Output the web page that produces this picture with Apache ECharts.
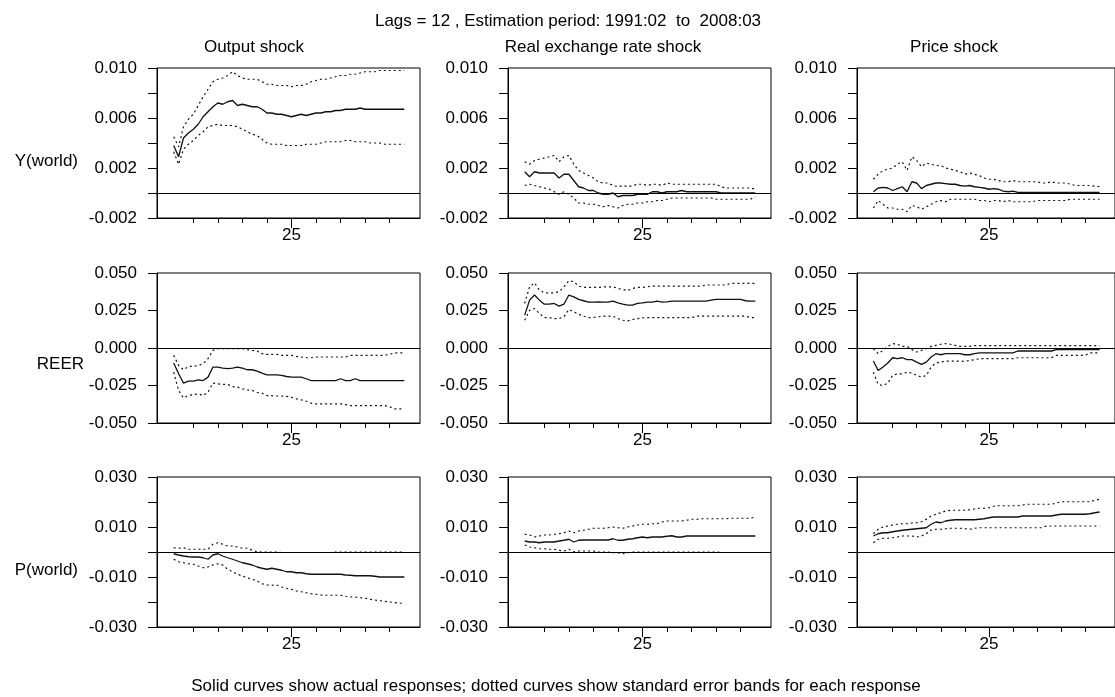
<!DOCTYPE html>
<html>
<head>
<meta charset="utf-8">
<script src="https://cdn.jsdelivr.net/npm/echarts@6/dist/echarts.min.js"></script>
<style>
  html, body { margin: 0; padding: 0; background: #fff; }
  #main { width: 1115px; height: 697px; }
</style>
</head>
<body>
<div id="main"></div>
<script>
// horizon (months after the shock)
var periods = [1,2,3,4,5,6,7,8,9,10,11,12,13,14,15,16,17,18,19,20,21,22,23,24,
               25,26,27,28,29,30,31,32,33,34,35,36,37,38,39,40,41,42,43,44,45,46,47,48];

var colTitles = ['Output shock', 'Real exchange rate shock', 'Price shock'];
var rowNames = ['Y(world)', 'REER', 'P(world)'];
var xTicks = [5, 10, 15, 20, 25, 30, 35, 40, 45];
var xLabels = [25];
var yLabels1 = [-0.002, 0.002, 0.006, 0.010];
var yLabels2 = [-0.050, -0.025, 0.000, 0.025, 0.050];
var yLabels3 = [-0.030, -0.010, 0.010, 0.030];

// ---- Y(world) ----
var ywOutMid = [0.0038,0.0029,0.0044,0.0048,0.0051,0.0055,0.0061,0.0065,0.0069,0.0072,0.0071,0.0073,0.0074,0.0070,0.0071,0.0070,0.0069,0.0069,0.0067,0.0064,0.0064,0.0063,0.0063,0.0062,
                0.0061,0.0062,0.0063,0.0062,0.0063,0.0064,0.0064,0.0065,0.0065,0.0066,0.0066,0.0067,0.0067,0.0067,0.0068,0.0067,0.0067,0.0067,0.0067,0.0067,0.0067,0.0067,0.0067,0.0067];
var ywOutUp  = [0.0045,0.0037,0.0053,0.0059,0.0063,0.0070,0.0077,0.0083,0.0089,0.0091,0.0092,0.0094,0.0097,0.0094,0.0092,0.0091,0.0091,0.0091,0.0089,0.0087,0.0087,0.0086,0.0086,0.0086,
                0.0085,0.0086,0.0086,0.0087,0.0089,0.0090,0.0091,0.0091,0.0092,0.0093,0.0094,0.0094,0.0095,0.0095,0.0096,0.0097,0.0097,0.0097,0.0098,0.0098,0.0098,0.0098,0.0098,0.0098];
var ywOutLo  = [0.0033,0.0023,0.0035,0.0039,0.0042,0.0046,0.0049,0.0053,0.0054,0.0055,0.0054,0.0054,0.0054,0.0053,0.0051,0.0049,0.0047,0.0046,0.0043,0.0040,0.0039,0.0039,0.0039,0.0038,
                0.0038,0.0038,0.0038,0.0039,0.0039,0.0039,0.0040,0.0041,0.0041,0.0041,0.0041,0.0042,0.0042,0.0041,0.0041,0.0041,0.0040,0.0040,0.0040,0.0039,0.0039,0.0039,0.0039,0.0039];

var ywRerMid = [0.0017,0.0013,0.0017,0.0016,0.0016,0.0016,0.0016,0.0012,0.0015,0.0015,0.0010,0.0005,0.0004,0.0002,0.0002,0.0000,-0.0001,-0.0001,0.0000,-0.0003,-0.0002,-0.0002,-0.0002,-0.0001,
                -0.0001,-0.0001,0.0001,0.0001,0.0000,0.0001,0.0001,0.0001,0.0002,0.0001,0.0001,0.0001,0.0001,0.0001,0.0001,0.0001,0.0000,0.0000,0.0000,0.0000,0.0000,0.0000,0.0000,0.0000];
var ywRerUp  = [0.0025,0.0023,0.0026,0.0027,0.0028,0.0029,0.0030,0.0025,0.0029,0.0030,0.0023,0.0018,0.0016,0.0014,0.0012,0.0009,0.0008,0.0008,0.0006,0.0005,0.0006,0.0005,0.0006,0.0007,
                0.0007,0.0006,0.0007,0.0007,0.0006,0.0008,0.0007,0.0007,0.0007,0.0007,0.0007,0.0007,0.0007,0.0007,0.0007,0.0007,0.0005,0.0004,0.0004,0.0004,0.0004,0.0004,0.0004,0.0003];
var ywRerLo  = [0.0006,0.0007,0.0006,0.0005,0.0004,0.0003,0.0001,-0.0001,0.0001,-0.0001,-0.0004,-0.0008,-0.0008,-0.0009,-0.0009,-0.0010,-0.0011,-0.0010,-0.0011,-0.0012,-0.0010,-0.0009,-0.0009,-0.0008,
                -0.0008,-0.0007,-0.0007,-0.0006,-0.0006,-0.0005,-0.0004,-0.0004,-0.0004,-0.0004,-0.0004,-0.0004,-0.0004,-0.0004,-0.0004,-0.0005,-0.0005,-0.0005,-0.0005,-0.0005,-0.0005,-0.0005,-0.0005,-0.0003];

var ywPrMid  = [0.0001,0.0004,0.00045,0.0004,0.0002,0.00035,0.0005,0.0001,0.0009,0.0008,0.00035,0.0006,0.0007,0.0008,0.0008,0.00075,0.0007,0.0007,0.0006,0.00055,0.0006,0.0005,0.00045,0.0004,
                0.0003,0.00035,0.0003,0.00015,0.0001,0.00015,0.00005,0.00005,0.00005,0.00005,0.00005,0.00005,0.00005,0.00005,0.00005,0.00005,0.00005,0.00005,0.00005,0.00005,0.00005,0.00005,0.00005,0.00005];
var ywPrUp   = [0.0011,0.0015,0.0018,0.0019,0.0020,0.0023,0.0025,0.0018,0.0029,0.0026,0.0021,0.0024,0.0023,0.0022,0.0022,0.0020,0.0019,0.0018,0.0017,0.0015,0.0016,0.0015,0.0014,0.0012,
                0.0011,0.0011,0.0010,0.0009,0.0009,0.0010,0.0009,0.0009,0.0009,0.0009,0.0009,0.0008,0.0008,0.0009,0.0008,0.0008,0.0008,0.0007,0.0006,0.0006,0.0006,0.0006,0.00055,0.0005];
var ywPrLo   = [-0.0012,-0.0006,-0.0009,-0.0012,-0.0012,-0.0013,-0.0013,-0.0015,-0.0010,-0.0011,-0.0013,-0.0011,-0.0009,-0.0007,-0.0006,-0.0007,-0.0005,-0.0005,-0.0005,-0.0005,-0.0005,-0.0005,-0.0006,-0.0006,
                -0.0007,-0.0006,-0.0006,-0.0007,-0.0006,-0.0007,-0.0007,-0.0007,-0.0007,-0.0007,-0.0006,-0.0006,-0.0006,-0.0006,-0.0006,-0.0006,-0.0006,-0.0005,-0.0005,-0.0005,-0.0005,-0.0005,-0.0005,-0.0005];

// ---- REER ----
var reOutMid = [-0.0100,-0.0172,-0.0234,-0.0221,-0.0221,-0.0212,-0.0217,-0.0194,-0.0127,-0.0127,-0.0134,-0.0138,-0.0134,-0.0127,-0.0134,-0.0145,-0.0145,-0.0154,-0.0167,-0.0179,-0.0179,-0.0179,-0.0183,-0.0190,
                -0.0194,-0.0194,-0.0194,-0.0205,-0.0217,-0.0217,-0.0217,-0.0217,-0.0217,-0.0217,-0.0205,-0.0217,-0.0217,-0.0205,-0.0217,-0.0217,-0.0217,-0.0217,-0.0217,-0.0217,-0.0217,-0.0217,-0.0217,-0.0217];
var reOutUp  = [-0.0049,-0.0116,-0.0145,-0.0123,-0.0123,-0.0116,-0.0105,-0.0071,-0.0016,-0.0004,-0.0004,-0.0004,-0.0004,-0.0004,-0.0004,-0.0011,-0.0016,-0.0020,-0.0038,-0.0042,-0.0042,-0.0042,-0.0049,-0.0049,
                -0.0049,-0.0056,-0.0060,-0.0065,-0.0065,-0.0060,-0.0060,-0.0060,-0.0060,-0.0060,-0.0060,-0.0060,-0.0049,-0.0049,-0.0049,-0.0049,-0.0049,-0.0049,-0.0049,-0.0049,-0.0042,-0.0033,-0.0033,-0.0033];
var reOutLo  = [-0.0161,-0.0283,-0.0333,-0.0317,-0.0310,-0.0306,-0.0317,-0.0295,-0.0234,-0.0239,-0.0243,-0.0243,-0.0257,-0.0261,-0.0272,-0.0279,-0.0283,-0.0295,-0.0301,-0.0317,-0.0318,-0.0320,-0.0320,-0.0322,
                -0.0328,-0.0339,-0.0346,-0.0355,-0.0368,-0.0373,-0.0373,-0.0373,-0.0373,-0.0373,-0.0373,-0.0377,-0.0384,-0.0384,-0.0384,-0.0384,-0.0384,-0.0384,-0.0384,-0.0384,-0.0391,-0.0406,-0.0406,-0.0406];

var reRerMid = [0.0219,0.0319,0.0353,0.0319,0.0292,0.0292,0.0297,0.0279,0.0292,0.0353,0.0341,0.0324,0.0315,0.0306,0.0306,0.0308,0.0306,0.0306,0.0312,0.0301,0.0292,0.0286,0.0286,0.0297,
                0.0301,0.0306,0.0306,0.0312,0.0306,0.0308,0.0312,0.0312,0.0312,0.0312,0.0312,0.0312,0.0312,0.0312,0.0319,0.0324,0.0324,0.0324,0.0324,0.0324,0.0324,0.0315,0.0312,0.0312];
var reRerUp  = [0.0297,0.0408,0.0435,0.0386,0.0368,0.0368,0.0368,0.0375,0.0408,0.0449,0.0442,0.0413,0.0404,0.0404,0.0404,0.0404,0.0408,0.0408,0.0408,0.0397,0.0391,0.0382,0.0397,0.0404,
                0.0404,0.0408,0.0413,0.0413,0.0413,0.0413,0.0413,0.0413,0.0413,0.0413,0.0413,0.0413,0.0413,0.0420,0.0420,0.0420,0.0420,0.0420,0.0431,0.0431,0.0431,0.0431,0.0431,0.0431];
var reRerLo  = [0.0185,0.0252,0.0263,0.0230,0.0203,0.0203,0.0196,0.0196,0.0208,0.0257,0.0241,0.0225,0.0212,0.0203,0.0203,0.0208,0.0212,0.0212,0.0212,0.0196,0.0185,0.0181,0.0190,0.0196,
                0.0201,0.0203,0.0203,0.0203,0.0203,0.0203,0.0203,0.0203,0.0203,0.0203,0.0203,0.0212,0.0212,0.0212,0.0212,0.0212,0.0212,0.0212,0.0212,0.0212,0.0212,0.0212,0.0203,0.0203];

var rePrMid  = [-0.0087,-0.0150,-0.0127,-0.0100,-0.0065,-0.0071,-0.0065,-0.0078,-0.0078,-0.0094,-0.0109,-0.0094,-0.0060,-0.0038,-0.0045,-0.0038,-0.0038,-0.0038,-0.0038,-0.0045,-0.0045,-0.0038,-0.0033,-0.0033,
                -0.0033,-0.0033,-0.0033,-0.0033,-0.0033,-0.0033,-0.0020,-0.0020,-0.0020,-0.0020,-0.0020,-0.0020,-0.0020,-0.0020,-0.0011,-0.0011,-0.0011,-0.0011,-0.0011,-0.0011,-0.0011,-0.0011,-0.0011,-0.0011];
var rePrUp   = [-0.0004,-0.0038,-0.0016,0.0011,0.0029,0.0025,0.0011,0.0011,-0.0011,-0.0027,-0.0016,-0.0004,0.0011,0.0018,0.0025,0.0029,0.0025,0.0018,0.0011,0.0011,0.0011,0.0016,0.0016,0.0016,
                0.0016,0.0016,0.0016,0.0016,0.0016,0.0016,0.0016,0.0016,0.0016,0.0016,0.0016,0.0016,0.0016,0.0016,0.0016,0.0016,0.0016,0.0016,0.0016,0.0016,0.0016,0.0016,0.0016,0.0016];
var rePrLo   = [-0.0161,-0.0243,-0.0250,-0.0234,-0.0183,-0.0172,-0.0172,-0.0161,-0.0167,-0.0183,-0.0194,-0.0183,-0.0127,-0.0100,-0.0094,-0.0087,-0.0087,-0.0087,-0.0087,-0.0089,-0.0083,-0.0078,-0.0071,-0.0071,
                -0.0071,-0.0071,-0.0071,-0.0071,-0.0071,-0.0071,-0.0065,-0.0065,-0.0065,-0.0065,-0.0065,-0.0065,-0.0065,-0.0065,-0.0049,-0.0049,-0.0049,-0.0049,-0.0049,-0.0049,-0.0049,-0.0033,-0.0033,-0.0033];

// ---- P(world) ----
var pwOutMid = [-0.0007,-0.0012,-0.0016,-0.0019,-0.0020,-0.0020,-0.0023,-0.0029,-0.0012,-0.0007,-0.0016,-0.0023,-0.0029,-0.0036,-0.0043,-0.0047,-0.0052,-0.0060,-0.0065,-0.0069,-0.0065,-0.0069,-0.0073,-0.0079,
                -0.0079,-0.0083,-0.0083,-0.0087,-0.0089,-0.0089,-0.0089,-0.0089,-0.0089,-0.0089,-0.0089,-0.0092,-0.0093,-0.0095,-0.0095,-0.0095,-0.0095,-0.0097,-0.0100,-0.0100,-0.0100,-0.0100,-0.0100,-0.0100];
var pwOutUp  = [0.0017,0.0015,0.0017,0.0011,0.0011,0.0011,0.0011,0.0011,0.0031,0.0037,0.0031,0.0024,0.0024,0.0020,0.0015,0.0015,0.0007,0.0001,0.0000,0.0000,0.0000,0.0000,-0.0002,-0.0002,
                -0.0002,-0.0002,-0.0002,-0.0002,-0.0002,-0.0002,-0.0002,-0.0002,-0.0002,0.0000,0.0000,0.0000,0.0000,0.0000,0.0000,0.0000,0.0000,0.0000,0.0000,0.0000,0.0000,0.0000,0.0000,0.0000];
var pwOutLo  = [-0.0029,-0.0039,-0.0043,-0.0047,-0.0049,-0.0056,-0.0063,-0.0060,-0.0052,-0.0047,-0.0052,-0.0069,-0.0079,-0.0089,-0.0096,-0.0103,-0.0109,-0.0116,-0.0127,-0.0132,-0.0133,-0.0132,-0.0140,-0.0145,
                -0.0149,-0.0156,-0.0159,-0.0163,-0.0167,-0.0169,-0.0172,-0.0173,-0.0173,-0.0173,-0.0173,-0.0177,-0.0180,-0.0180,-0.0183,-0.0185,-0.0189,-0.0192,-0.0195,-0.0197,-0.0200,-0.0202,-0.0205,-0.0205];

var pwRerMid = [0.0044,0.0040,0.0040,0.0037,0.0040,0.0040,0.0040,0.0044,0.0047,0.0051,0.0040,0.0047,0.0048,0.0048,0.0048,0.0048,0.0048,0.0048,0.0053,0.0047,0.0047,0.0051,0.0053,0.0057,
                0.0060,0.0057,0.0060,0.0060,0.0060,0.0063,0.0065,0.0060,0.0060,0.0064,0.0064,0.0064,0.0064,0.0064,0.0064,0.0064,0.0064,0.0064,0.0064,0.0064,0.0064,0.0064,0.0064,0.0064];
var pwRerUp  = [0.0071,0.0068,0.0060,0.0064,0.0068,0.0068,0.0071,0.0073,0.0077,0.0084,0.0077,0.0084,0.0087,0.0091,0.0095,0.0095,0.0095,0.0097,0.0100,0.0097,0.0095,0.0100,0.0104,0.0108,
                0.0111,0.0111,0.0113,0.0113,0.0120,0.0124,0.0124,0.0124,0.0124,0.0127,0.0131,0.0131,0.0133,0.0133,0.0133,0.0133,0.0133,0.0133,0.0135,0.0135,0.0135,0.0135,0.0135,0.0140];
var pwRerLo  = [0.0028,0.0020,0.0017,0.0013,0.0013,0.0011,0.0011,0.0007,0.0004,0.0011,0.0001,0.0004,0.0004,0.0004,0.0004,0.0000,0.0000,0.0000,-0.0003,-0.0003,-0.0007,-0.0003,0.0000,0.0000,
                0.0000,0.0000,0.0000,0.0000,0.0000,0.0000,0.0000,0.0000,0.0000,0.0000,0.0000,0.0000,0.0000,0.0000,0.0000,0.0000,-0.0002,-0.0002,-0.0002,-0.0002,-0.0002,-0.0002,-0.0002,-0.0002];

var pwPrMid  = [0.0064,0.0073,0.0077,0.0077,0.0081,0.0084,0.0087,0.0089,0.0091,0.0093,0.0095,0.0097,0.0111,0.0120,0.0117,0.0124,0.0127,0.0129,0.0129,0.0129,0.0129,0.0129,0.0131,0.0133,
                0.0137,0.0140,0.0140,0.0140,0.0140,0.0140,0.0140,0.0144,0.0144,0.0144,0.0144,0.0144,0.0144,0.0144,0.0148,0.0151,0.0151,0.0151,0.0151,0.0151,0.0151,0.0153,0.0157,0.0160];
var pwPrUp   = [0.0073,0.0091,0.0100,0.0104,0.0108,0.0111,0.0113,0.0113,0.0116,0.0117,0.0121,0.0131,0.0144,0.0151,0.0157,0.0164,0.0167,0.0167,0.0167,0.0167,0.0169,0.0172,0.0175,0.0175,
                0.0177,0.0183,0.0185,0.0185,0.0185,0.0185,0.0185,0.0188,0.0191,0.0191,0.0191,0.0191,0.0191,0.0191,0.0196,0.0201,0.0201,0.0201,0.0201,0.0201,0.0201,0.0201,0.0207,0.0211];
var pwPrLo   = [0.0037,0.0051,0.0055,0.0055,0.0057,0.0060,0.0064,0.0064,0.0064,0.0060,0.0064,0.0073,0.0088,0.0091,0.0091,0.0093,0.0095,0.0095,0.0095,0.0093,0.0091,0.0095,0.0097,0.0097,
                0.0097,0.0097,0.0097,0.0097,0.0097,0.0097,0.0097,0.0097,0.0097,0.0097,0.0097,0.0097,0.0104,0.0104,0.0104,0.0104,0.0104,0.0104,0.0104,0.0104,0.0104,0.0104,0.0104,0.0104];

var panels = [
  [[ywOutMid, ywOutUp, ywOutLo], [ywRerMid, ywRerUp, ywRerLo], [ywPrMid, ywPrUp, ywPrLo]],
  [[reOutMid, reOutUp, reOutLo], [reRerMid, reRerUp, reRerLo], [rePrMid, rePrUp, rePrLo]],
  [[pwOutMid, pwOutUp, pwOutLo], [pwRerMid, pwRerUp, pwRerLo], [pwPrMid, pwPrUp, pwPrLo]]
];

var rowAxes = [
  { min: -0.002, max: 0.010, step: 0.002, labels: yLabels1 },
  { min: -0.050, max: 0.050, step: 0.025, labels: yLabels2 },
  { min: -0.030, max: 0.030, step: 0.010, labels: yLabels3 }
];

var FONT = '"Liberation Sans", Arial, sans-serif';
var FS = 17;
var colLeft = [157, 508, 857];
var rowTop = [68, 273, 477];
var plotW = 263, plotH = 150;

var grids = [], xAxes = [], yAxes = [], series = [];

function pairs(arr) {
  return periods.map(function (p, k) { return [p, arr[k]]; });
}

for (var r = 0; r < 3; r++) {
  for (var c = 0; c < 3; c++) {
    var gi = grids.length;
    grids.push({
      left: colLeft[c], top: rowTop[r], width: plotW, height: plotH,
      show: true, borderColor: '#000', borderWidth: 1, backgroundColor: 'transparent'
    });
    xAxes.push({
      gridIndex: gi, type: 'value', min: -2.4, max: 51.2, position: 'bottom',
      axisLine: { show: true, onZero: false, lineStyle: { color: '#000', width: 1 } },
      axisTick: { show: true, inside: false, length: 5, customValues: xTicks, lineStyle: { color: '#000' } },
      axisLabel: { customValues: xLabels, margin: 9, color: '#000', fontSize: FS, fontFamily: FONT },
      splitLine: { show: false }
    });
    // the longer tick under "25"
    xAxes.push({
      gridIndex: gi, type: 'value', min: -2.4, max: 51.2, position: 'bottom',
      axisLine: { show: false, onZero: false },
      axisTick: { show: true, inside: false, length: 10, customValues: xLabels, lineStyle: { color: '#000' } },
      axisLabel: { show: false },
      splitLine: { show: false }
    });
    var ax = rowAxes[r];
    yAxes.push({
      gridIndex: gi, type: 'value', min: ax.min, max: ax.max, interval: ax.step, position: 'left',
      axisLine: { show: true, onZero: false, lineStyle: { color: '#000', width: 1 } },
      axisTick: { show: true, inside: false, length: 9, lineStyle: { color: '#000' } },
      axisLabel: {
        customValues: ax.labels, margin: 20, color: '#000', fontSize: FS, fontFamily: FONT,
        formatter: function (v) { return v.toFixed(3); }
      },
      splitLine: { show: false }
    });
    var set = panels[r][c];
    series.push({
      type: 'line', xAxisIndex: 2 * gi, yAxisIndex: gi, data: pairs(set[0]),
      showSymbol: false, symbol: 'none', silent: true,
      lineStyle: { color: '#111', width: 1.3, type: 'solid' },
      markLine: {
        silent: true, symbol: 'none', label: { show: false },
        lineStyle: { color: '#000', width: 1.2, type: 'solid' },
        data: [{ yAxis: 0 }]
      }
    });
    for (var b = 1; b < 3; b++) {
      series.push({
        type: 'line', xAxisIndex: 2 * gi, yAxisIndex: gi, data: pairs(set[b]),
        showSymbol: false, symbol: 'none', silent: true,
        lineStyle: { color: '#111', width: 1.2, type: [2, 3] }
      });
    }
  }
}

function txt(x, y, s, align) {
  return {
    type: 'text', x: x, y: y, silent: true,
    style: { text: s, fill: '#000', fontSize: FS, fontFamily: FONT, align: align || 'center', verticalAlign: 'middle' }
  };
}

var graphics = [
  txt(568, 21, 'Lags = 12 , Estimation period: 1991:02  to  2008:03'),
  txt(254, 47, colTitles[0]),
  txt(603, 47, colTitles[1]),
  txt(954, 47, colTitles[2]),
  txt(78, 161, rowNames[0], 'right'),
  txt(84, 364, rowNames[1], 'right'),
  txt(78, 570, rowNames[2], 'right'),
  txt(556, 686, 'Solid curves show actual responses; dotted curves show standard error bands for each response')
];

var chart = echarts.init(document.getElementById('main'), null, { renderer: 'canvas' });
chart.setOption({
  backgroundColor: '#fff',
  animation: false,
  grid: grids,
  xAxis: xAxes,
  yAxis: yAxes,
  series: series,
  graphic: graphics
});
</script>
</body>
</html>
